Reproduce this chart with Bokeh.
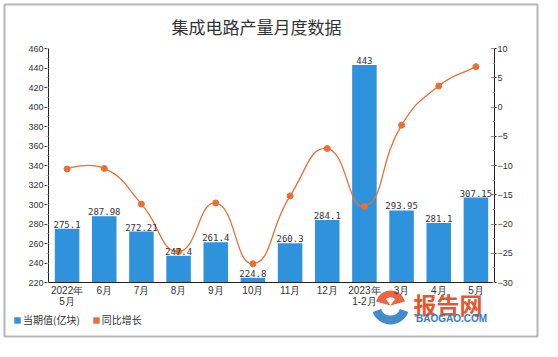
import math
from bokeh.plotting import figure
from bokeh.models import (Range1d, LinearAxis, FixedTicker, SingleIntervalTicker,
                          ColumnDataSource, LabelSet, Legend, LegendItem, Label, BoxAnnotation)
from bokeh.core.properties import value
from bokeh.embed import file_html
from bokeh.resources import INLINE

# ---------------- data ----------------
months = ["2022年\n5月", "6月", "7月", "8月", "9月", "10月", "11月", "12月",
          "2023年\n1-2月", "3月", "4月", "5月"]
output = [275.1, 287.98, 272.21, 247.4, 261.4, 224.8, 260.3, 284.1, 443, 293.95, 281.1, 307.15]
yoy = [-10.6, -10.5, -16.6, -24.7, -16.4, -26.8, -15.2, -7.1, -17.0, -3.1, 3.6, 6.9]
series_names = ["当期值(亿块)", "同比增长"]
title_text = "集成电路产量月度数据"
left_min, left_max = 220, 460
right_min, right_max = -30, 10

BLUE = "#2e93dc"
ORANGE = "#ea6f37"
TXT = "#333333"

# ---------------- layout (pixels) ----------------
W, H = 542, 341
TOP = 48              # pixel y of the 460 / 10 line
AX_L, AX_R = 48, 494  # pixel x of left / right axis lines
BASE = 282            # pixel y of the 220 line
n = len(months)
cat_w = (AX_R - AX_L) / n
ppu_l = (BASE - TOP) / (left_max - left_min)
ppu_r = (BASE - TOP) / (right_max - right_min)

xs = list(range(n))
x_range = Range1d(-0.5 - AX_L / cat_w, n - 0.5 + (W - AX_R) / cat_w)
y_range = Range1d(left_min - (H - BASE) / ppu_l, left_max + TOP / ppu_l)

p = figure(width=W, height=H, x_range=x_range, y_range=y_range,
           output_backend="svg", toolbar_location=None,
           min_border_left=0, min_border_right=0, min_border_top=0, min_border_bottom=0)
p.extra_y_ranges = {"right": Range1d(right_min - (H - BASE) / ppu_r, right_max + TOP / ppu_r)}
p.grid.visible = False
p.outline_line_color = None
p.background_fill_color = "white"
p.border_fill_color = "white"

# outer frame line
p.add_layout(BoxAnnotation(left=4, right=W - 5, bottom=5, top=H - 4,
                           left_units="screen", right_units="screen",
                           bottom_units="screen", top_units="screen",
                           fill_alpha=0, line_color="#111", line_width=2, level="underlay"))

# title
p.add_layout(Label(x=171, y=H - 26, x_units="screen", y_units="screen", text=title_text,
                   text_font="Noto Sans CJK SC", text_font_size="17px",
                   text_color=TXT, text_baseline="middle"))

# left axis
la = p.yaxis[0]
la.fixed_location = -0.5
la.bounds = (left_min, left_max)
la.ticker = SingleIntervalTicker(interval=20, num_minor_ticks=2)
la.axis_line_color = "#222"
la.major_tick_line_color = "#222"
la.major_tick_out = 4
la.major_tick_in = 0
la.minor_tick_line_color = "#e3a3a3"
la.minor_tick_out = 2
la.minor_tick_in = 0
la.major_label_standoff = 1
la.major_label_text_font = "Liberation Sans"
la.major_label_text_font_size = "9px"
la.major_label_text_color = TXT

# right axis
ra = LinearAxis(y_range_name="right", ticker=SingleIntervalTicker(interval=5, num_minor_ticks=2))
ra.fixed_location = n - 0.5
ra.bounds = (right_min, right_max)
ra.axis_line_color = "#222"
ra.major_tick_line_color = "#222"
ra.major_tick_out = 2
ra.major_tick_in = 3
ra.minor_tick_line_color = "#e3a3a3"
ra.minor_tick_out = 0
ra.minor_tick_in = 2
ra.major_label_standoff = 1
ra.major_label_text_font = "Liberation Sans"
ra.major_label_text_font_size = "9px"
ra.major_label_text_color = TXT
p.add_layout(ra, "right")

# x axis
xa = p.xaxis[0]
xa.fixed_location = left_min
xa.bounds = (-0.5, n - 0.5)
xa.ticker = FixedTicker(ticks=xs)
xa.major_label_overrides = {i: m for i, m in zip(xs, months)}
xa.axis_line_color = "#222"
xa.major_tick_line_color = None
xa.minor_tick_line_color = None
xa.major_tick_out = 0
xa.major_tick_in = 0
xa.major_label_standoff = 2
xa.major_label_text_font = "Liberation Sans"
xa.major_label_text_font_size = "10px"
xa.major_label_text_line_height = 1.05
xa.major_label_text_color = TXT

# bars
src = ColumnDataSource(dict(x=xs, top=output, label=[f"{v:g}" for v in output]))
bars = p.vbar(x="x", top="top", bottom=left_min, width=0.66, source=src,
              fill_color=BLUE, line_color=None)
p.add_layout(LabelSet(x="x", y="top", text="label", source=src, y_offset=1,
                      text_align="center", text_baseline="bottom",
                      text_font=value("DejaVu Sans Mono"), text_font_size=value("9px"),
                      text_color=TXT))

# smooth line (echarts-like bezier smoothing, smooth=0.5), computed in pixel space
P = [(x * cat_w, y * ppu_r) for x, y in zip(xs, yoy)]
smooth = 0.5
cp_out = [None] * n
cp_in = [None] * n
cp_out[0] = P[0]
for i in range(1, n):
    x, y = P[i]
    px, py = P[i - 1]
    nx, ny = P[i + 1] if i < n - 1 else P[i]
    vx, vy = nx - px, ny - py
    lp = math.hypot(x - px, y - py)
    ln = math.hypot(nx - x, ny - y)
    r = ln / (ln + lp) if (ln + lp) > 0 else 0.5
    cp_in[i] = (x - vx * smooth * (1 - r), y - vy * smooth * (1 - r))
    cp_out[i] = (x + vx * smooth * r, y + vy * smooth * r)

seg = dict(x0=[], y0=[], x1=[], y1=[], cx0=[], cy0=[], cx1=[], cy1=[])
for i in range(1, n):
    seg["x0"].append(P[i - 1][0] / cat_w); seg["y0"].append(P[i - 1][1] / ppu_r)
    seg["x1"].append(P[i][0] / cat_w); seg["y1"].append(P[i][1] / ppu_r)
    seg["cx0"].append(cp_out[i - 1][0] / cat_w); seg["cy0"].append(cp_out[i - 1][1] / ppu_r)
    seg["cx1"].append(cp_in[i][0] / cat_w); seg["cy1"].append(cp_in[i][1] / ppu_r)
p.bezier(x0="x0", y0="y0", x1="x1", y1="y1", cx0="cx0", cy0="cy0", cx1="cx1", cy1="cy1",
         source=ColumnDataSource(seg), line_color=ORANGE, line_width=1.3, y_range_name="right")
p.scatter(x=xs, y=yoy, size=6, fill_color=ORANGE, line_color=ORANGE, y_range_name="right")

# legend (square swatches; orange one via a zero-height bar proxy)
lo = p.vbar(x=[xs[0]], top=[left_min], bottom=left_min, width=0.5,
            fill_color=ORANGE, line_color=None)
legend = Legend(items=[LegendItem(label=series_names[0], renderers=[bars]),
                       LegendItem(label=series_names[1], renderers=[lo])],
                location=(13, 14), orientation="horizontal",
                glyph_width=8, glyph_height=8, label_standoff=2, spacing=12,
                padding=0, margin=0, border_line_color=None, background_fill_alpha=0,
                label_text_font="Noto Sans CJK SC", label_text_font_size="10px",
                label_height=12, label_text_color=TXT, label_text_baseline="middle")
p.add_layout(legend)

# watermark (logo approximation + text)
def dx(px):
    return (px - AX_L) / cat_w - 0.5

def dy(py):
    return left_min + (BASE - py) / ppu_l

p.wedge(x=[dx(390)], y=[dy(305)], radius=15, radius_units="screen",
        start_angle=math.radians(15), end_angle=math.radians(165),
        fill_color="#e8552d", line_color=None, fill_alpha=0.9)
p.wedge(x=[dx(390)], y=[dy(305)], radius=8, radius_units="screen",
        start_angle=math.radians(55), end_angle=math.radians(125),
        fill_color="white", line_color=None)
p.annular_wedge(x=[dx(390)], y=[dy(305)], inner_radius=10, outer_radius=19,
                inner_radius_units="screen", outer_radius_units="screen",
                start_angle=math.radians(200), end_angle=math.radians(340),
                fill_color="#2f80c4", line_color=None, fill_alpha=0.9)
p.add_layout(Label(x=413, y=H - 303, x_units="screen", y_units="screen", text="报告网",
                   text_font="Noto Sans CJK SC", text_font_size="23px", text_font_style="bold",
                   text_color="#e8552d", text_baseline="middle"))
p.add_layout(Label(x=451, y=H - 318, x_units="screen", y_units="screen", text="BAOGAO.COM",
                   text_font="Liberation Sans", text_font_size="10px", text_font_style="bold",
                   text_color="#2f80c4", text_baseline="middle", text_align="center"))

open("out.html", "w").write(file_html(p, INLINE))
